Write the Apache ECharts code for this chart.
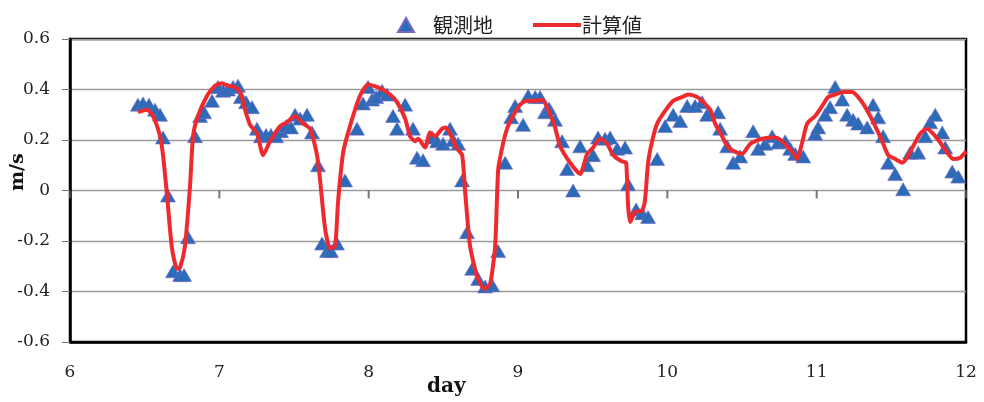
<!DOCTYPE html>
<html>
<head>
<meta charset="utf-8">
<script src="https://cdn.jsdelivr.net/npm/echarts@6/dist/echarts.min.js"></script>
<style>
html,body{margin:0;padding:0;background:#fff;}
#chart{width:984px;height:402px;}
</style>
</head>
<body>
<div id="chart"></div>
<script>
// Observed (観測地)
const obsDay = [6.455,6.489,6.529,6.569,6.603,6.623,6.656,6.690,6.737,6.764,6.790,6.837,6.871,6.898,6.951,6.991,7.025,7.058,7.092,7.125,7.145,7.179,7.219,7.252,7.279,7.313,7.346,7.380,7.413,7.447,7.480,7.507,7.541,7.587,7.621,7.661,7.688,7.721,7.748,7.788,7.842,7.922,7.962,7.996,8.023,8.050,8.090,8.123,8.163,8.190,8.244,8.297,8.324,8.364,8.425,8.458,8.498,8.545,8.565,8.599,8.626,8.659,8.693,8.733,8.780,8.827,8.867,8.914,8.954,8.981,9.034,9.068,9.115,9.148,9.181,9.208,9.248,9.295,9.329,9.369,9.416,9.463,9.503,9.536,9.583,9.617,9.664,9.717,9.737,9.791,9.831,9.871,9.932,9.985,10.039,10.086,10.133,10.186,10.233,10.267,10.340,10.354,10.401,10.441,10.488,10.575,10.608,10.655,10.702,10.742,10.789,10.823,10.856,10.910,10.990,11.010,11.057,11.090,11.124,11.171,11.204,11.244,11.278,11.338,11.378,11.412,11.445,11.479,11.526,11.579,11.626,11.680,11.727,11.760,11.794,11.841,11.861,11.908,11.948,12.008];
const obsVal = [0.34,0.345,0.34,0.32,0.30,0.21,-0.02,-0.32,-0.335,-0.335,-0.185,0.215,0.295,0.31,0.355,0.41,0.395,0.40,0.41,0.415,0.37,0.35,0.33,0.245,0.215,0.22,0.22,0.215,0.235,0.255,0.25,0.30,0.285,0.30,0.23,0.10,-0.21,-0.24,-0.24,-0.21,0.04,0.245,0.345,0.41,0.36,0.37,0.395,0.38,0.295,0.245,0.34,0.245,0.13,0.12,0.21,0.195,0.185,0.245,0.20,0.185,0.04,-0.165,-0.31,-0.35,-0.38,-0.375,-0.24,0.11,0.29,0.335,0.26,0.375,0.37,0.37,0.31,0.325,0.28,0.195,0.085,0.00,0.175,0.10,0.14,0.21,0.205,0.21,0.165,0.17,0.025,-0.075,-0.09,-0.105,0.125,0.255,0.30,0.275,0.335,0.335,0.35,0.30,0.31,0.245,0.175,0.11,0.135,0.235,0.165,0.185,0.215,0.19,0.195,0.165,0.145,0.135,0.225,0.25,0.30,0.33,0.41,0.36,0.30,0.28,0.265,0.25,0.34,0.29,0.215,0.11,0.065,0.005,0.15,0.15,0.215,0.27,0.30,0.23,0.17,0.075,0.055,0.08];
// Calculated (計算値)
const calcDay = [6.455,6.516,6.556,6.603,6.623,6.650,6.683,6.717,6.737,6.770,6.804,6.824,6.857,6.918,6.971,7.018,7.058,7.105,7.139,7.172,7.206,7.253,7.293,7.340,7.407,7.453,7.507,7.561,7.607,7.654,7.674,7.708,7.741,7.775,7.795,7.829,7.875,7.942,7.996,8.076,8.143,8.190,8.244,8.277,8.311,8.331,8.378,8.411,8.445,8.492,8.518,8.545,8.592,8.626,8.646,8.679,8.726,8.773,8.813,8.847,8.867,8.894,8.927,8.967,9.014,9.061,9.128,9.161,9.202,9.248,9.282,9.349,9.416,9.463,9.503,9.550,9.597,9.637,9.697,9.724,9.737,9.751,9.784,9.831,9.851,9.871,9.898,9.932,9.985,10.039,10.099,10.139,10.200,10.240,10.287,10.320,10.367,10.407,10.467,10.501,10.555,10.635,10.722,10.769,10.809,10.843,10.869,10.903,10.936,10.990,11.037,11.077,11.124,11.178,11.238,11.291,11.345,11.392,11.439,11.479,11.526,11.573,11.606,11.646,11.693,11.740,11.780,11.827,11.874,11.914,11.961,12.001];
const calcVal = [0.31,0.32,0.295,0.215,0.14,-0.02,-0.23,-0.31,-0.305,-0.22,0.02,0.215,0.295,0.375,0.415,0.425,0.415,0.41,0.39,0.32,0.26,0.225,0.14,0.195,0.255,0.27,0.295,0.265,0.245,0.14,0.045,-0.15,-0.23,-0.22,-0.045,0.15,0.255,0.375,0.42,0.405,0.38,0.35,0.285,0.215,0.195,0.205,0.17,0.23,0.215,0.245,0.25,0.225,0.165,0.14,-0.005,-0.22,-0.34,-0.39,-0.37,-0.22,0.08,0.17,0.245,0.295,0.34,0.355,0.355,0.36,0.32,0.25,0.175,0.11,0.065,0.145,0.17,0.205,0.185,0.14,0.115,0.11,-0.06,-0.125,-0.085,-0.08,-0.035,0.11,0.195,0.265,0.315,0.355,0.37,0.38,0.37,0.35,0.32,0.265,0.215,0.17,0.15,0.145,0.185,0.205,0.21,0.195,0.17,0.15,0.125,0.19,0.265,0.295,0.335,0.37,0.38,0.39,0.39,0.36,0.31,0.255,0.195,0.14,0.125,0.11,0.13,0.175,0.225,0.245,0.225,0.19,0.15,0.125,0.13,0.155];
const seriesNames = ['観測地', '計算値'];
const yTicks = [-0.6, -0.4, -0.2, 0, 0.2, 0.4, 0.6];
const xTicks = [6, 7, 8, 9, 10, 11, 12];

const obsData = obsDay.map((d, i) => [d, obsVal[i]]);
const calcData = calcDay.map((d, i) => [d, calcVal[i]]);
const zeroTickData = xTicks.map(d => [d, 0]);

const chart = echarts.init(document.getElementById('chart'), null, {renderer: 'canvas'});
const tickFont = 'DejaVu Serif';
chart.setOption({
  animation: false,
  backgroundColor: '#fff',
  grid: {left: 70, right: 18, top: 39, bottom: 60, show: true, borderColor: '#000', borderWidth: 2.5, backgroundColor: '#fff'},
  legend: [
    {data: [{name: seriesNames[0], icon: 'triangle'}], left: 392, top: 10, itemWidth: 16, itemHeight: 14,
     textStyle: {fontFamily: 'Noto Sans CJK JP', fontSize: 20, color: '#222', padding: [0,0,0,14]}},
    {data: [{name: seriesNames[1], icon: 'rect'}], left: 528, top: 10, itemWidth: 48, itemHeight: 4,
     textStyle: {fontFamily: 'Noto Sans CJK JP', fontSize: 20, color: '#222', padding: [0,0,0,-4]}}
  ],
  xAxis: {type: 'value', min: xTicks[0], max: xTicks[xTicks.length-1], interval: 1, position: 'bottom',
     axisLine: {show: true, onZero: false, lineStyle: {color: '#000', width: 2.5}},
     axisTick: {show: false},
     splitLine: {show: false},
     axisLabel: {margin: 22, fontFamily: tickFont, fontSize: 17, color: '#222'}},
  yAxis: {type: 'value', min: yTicks[0], max: yTicks[yTicks.length-1], interval: 0.2,
    axisLine: {show: true, lineStyle: {color: '#000', width: 2.5}},
    axisTick: {show: true, length: 8, lineStyle: {color: '#777', width: 1}},
    splitLine: {show: true, lineStyle: {color: '#9a9a9a', width: 1.3}},
    axisLabel: {margin: 20, fontFamily: tickFont, fontSize: 17, color: '#222',
      formatter: v => (Math.round(v*10)/10).toString()}
  },
  graphic: [
    {type: 'text', left: 427, top: 377, style: {text: 'day', font: 'bold 20px "DejaVu Serif"', fill: '#111'}},
    {type: 'text', x: 9, y: 191, rotation: Math.PI/2, style: {text: 'm/s', font: 'bold 19px "DejaVu Serif"', fill: '#111'}}
  ],
  series: [
    {name: 'zeroTicks', type: 'scatter', data: zeroTickData, symbol: 'rect', symbolSize: [2, 8], symbolOffset: [0, 4],
     itemStyle: {color: '#555'}, silent: true, z: 4, clip: false, legendHoverLink: false},
    {name: seriesNames[0], type: 'scatter', data: obsData, symbol: 'triangle', symbolSize: [15, 13],
     itemStyle: {color: '#2B6CB8', borderColor: '#7a66c4', borderWidth: 0.6, opacity: 1}, z: 2},
    {name: seriesNames[1], type: 'line', data: calcData, showSymbol: false, symbol: 'none', smooth: 0.2,
     lineStyle: {color: '#EE2A2E', width: 4}, itemStyle: {color: '#EE2A2E'}, z: 3}
  ]
});
</script>
</body>
</html>
